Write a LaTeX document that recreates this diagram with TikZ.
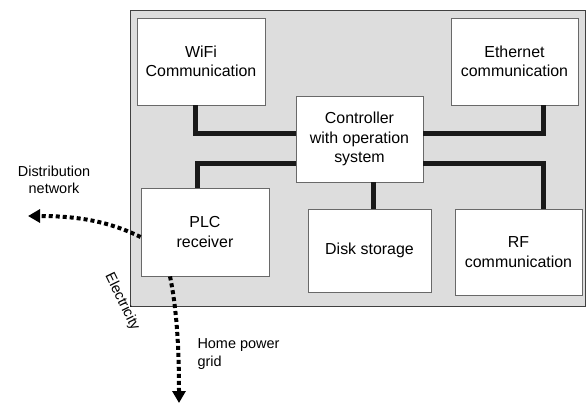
\documentclass[tikz,border=0pt]{standalone}
\usepackage{fontspec}
\setmainfont{Liberation Sans}
\usetikzlibrary{arrows.meta}
\definecolor{panelgray}{RGB}{221,221,221}
\definecolor{edgegray}{RGB}{105,105,105}
\begin{document}
\begin{tikzpicture}[x=1bp, y=-1bp, line join=miter,
	box/.style={draw=edgegray, line width=0.8bp, fill=white, inner sep=2bp, align=center, font=\fontsize{16}{19.5}\selectfont},
	bus/.style={line width=5bp, black!90},
	power/.style={line width=4bp, dash pattern=on 4bp off 3bp, -{Triangle[length=12bp, width=13bp]}},
	lbl/.style={font=\fontsize{14.5}{17.5}\selectfont}]
	\useasboundingbox (0,0) rectangle (586,403);
	\draw[draw=black!75, fill=panelgray, line width=0.8bp] (130,10) rectangle (585,306);
	\node[box, minimum width=128bp, minimum height=87bp] (wifi) at (201,61.5) {WiFi\\Communication};
	\node[box, minimum width=127bp, minimum height=87bp] (eth) at (514.5,61.5) {Ethernet\\communication};
	\node[box, minimum width=127bp, minimum height=86bp] (ctrl) at (359.5,139) {Controller\\with operation\\system};
	\node[box, minimum width=128bp, minimum height=88bp] (plc) at (205,232) {PLC\\receiver};
	\node[box, minimum width=123bp, minimum height=83bp] (disk) at (369.5,250.5) {Disk storage};
	\node[box, minimum width=127bp, minimum height=86bp] (rf) at (518.5,252) {RF\\communication};
	\draw[bus] ([xshift=-6bp]wifi.south) |- ([yshift=6bp]ctrl.west);
	\draw[bus] ([xshift=-8bp]plc.north) |- ([yshift=-24bp]ctrl.west);
	\draw[bus] ([xshift=3.5bp]disk.north) -- ([xshift=3.5bp]disk.north |- ctrl.south);
	\draw[bus] ([yshift=-24bp]ctrl.east) -| ([xshift=24.5bp]rf.north);
	\draw[bus] ([yshift=6bp]ctrl.east) -| ([xshift=28.5bp]eth.south);
	\coordinate (net) at (28,216);
	\coordinate (grid) at (179,403);
	\draw[power] ([yshift=-5bp]plc.west) .. controls (110,222) and (80,216) .. (net);
	\draw[power] ([xshift=-35bp]plc.south) .. controls (177,310) and (179,350) .. (grid);
	\node[lbl, align=center] (dist) at (54,180) {Distribution\\network};
	\node[lbl, rotate=-64] (elec) at (122,302) {Electricity};
	\node[lbl, align=left, anchor=west] (home) at (194,354) {Home power\\grid};
\end{tikzpicture}
\end{document}
